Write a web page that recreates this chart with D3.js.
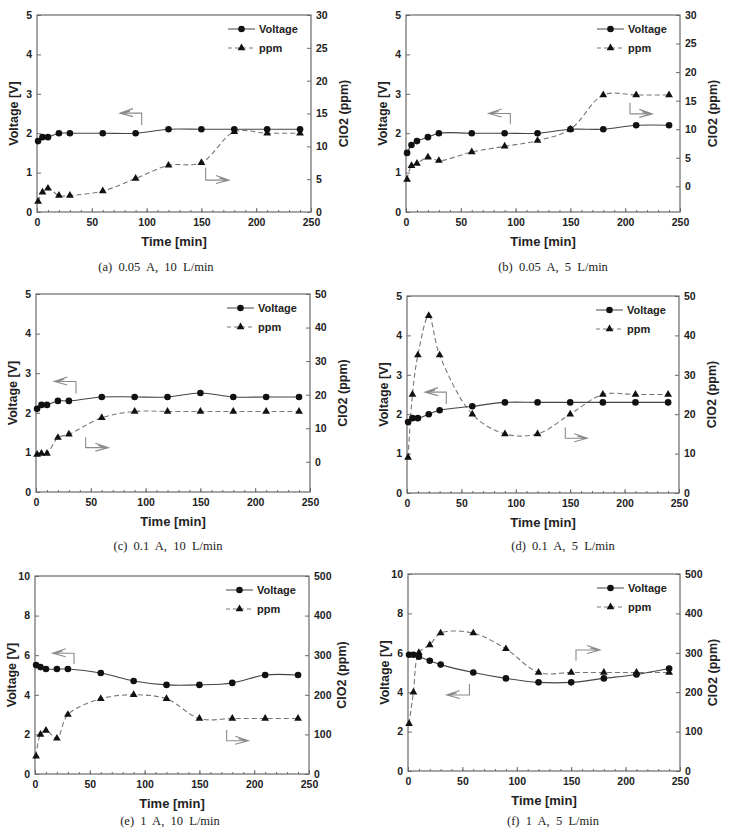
<!DOCTYPE html>
<html><head><meta charset="utf-8">
<script src="https://cdn.jsdelivr.net/npm/d3@7"></script>
<style>
body{margin:0;background:#fff}
svg text{font-family:Arial,"Liberation Sans",sans-serif}
.cap{font-family:"Liberation Serif","Times New Roman",serif;white-space:pre}
</style></head><body>
<svg id="chart" width="729" height="829"></svg>
<script>
// sampling times (min), same for every run
var time = [1, 5, 10, 20, 30, 60, 90, 120, 150, 180, 210, 240];

// (a) 0.05 A, 10 L/min
var voltA = [1.8, 1.9, 1.9, 2.0, 2.0, 2.0, 2.0, 2.1, 2.1, 2.1, 2.1, 2.1];
var ppmA  = [1.6, 3.0, 3.6, 2.5, 2.5, 3.2, 5.1, 7.1, 7.5, 12.2, 12.0, 12.0];
// (b) 0.05 A, 5 L/min
var voltB = [1.5, 1.7, 1.8, 1.9, 2.0, 2.0, 2.0, 2.0, 2.1, 2.1, 2.2, 2.2];
var ppmB  = [1.2, 3.6, 4.0, 5.1, 4.5, 6.0, 7.0, 8.0, 10.0, 16.0, 16.0, 16.0];
// (c) 0.1 A, 10 L/min
var voltC = [2.1, 2.2, 2.2, 2.3, 2.3, 2.4, 2.4, 2.4, 2.5, 2.4, 2.4, 2.4];
var ppmC  = [2.2, 2.5, 2.5, 7.2, 8.2, 13.1, 15, 15, 15, 15, 15, 15];
// (d) 0.1 A, 5 L/min
var voltD = [1.8, 1.9, 1.9, 2.0, 2.1, 2.2, 2.3, 2.3, 2.3, 2.3, 2.3, 2.3];
var ppmD  = [9, 25, 35, 45, 35, 20, 15, 15, 20, 25, 25, 25];
// (e) 1 A, 10 L/min
var voltE = [5.5, 5.4, 5.3, 5.3, 5.3, 5.1, 4.7, 4.5, 4.5, 4.6, 5.0, 5.0];
var ppmE  = [45, 100, 110, 90, 150, 190, 200, 190, 140, 140, 140, 140];
// (f) 1 A, 5 L/min
var voltF = [5.9, 5.9, 5.8, 5.6, 5.4, 5.0, 4.7, 4.5, 4.5, 4.7, 4.9, 5.2];
var ppmF  = [120, 200, 300, 320, 350, 350, 310, 250, 250, 250, 250, 250];

var captions = ["(a)  0.05  A,  10  L/min", "(b)  0.05  A,  5  L/min", "(c)  0.1  A,  10  L/min",
                "(d)  0.1  A,  5  L/min", "(e)  1  A,  10  L/min", "(f)  1  A,  5  L/min"];
var xTicks = [0, 50, 100, 150, 200, 250];

var svg = d3.select("#chart");
var frameColor = "#6a6a6a";

var panels = [
  {box:[37,15,311,212],  v:voltA, p:ppmA, vDom:[0,5],  vStep:1, pDom:[0,30],   pTicks:d3.range(0,31,5),   cap:captions[0], cx:156, cy:271,
   arrows:[[75.7,95.5,2.51,2.21],[175.2,153.9,0.81,1.12]]},
  {box:[406,15,680,212], v:voltB, p:ppmB, vDom:[0,5],  vStep:1, pDom:[-4.5,30], pTicks:d3.range(0,31,5),   cap:captions[1], cx:553, cy:271,
   arrows:[[75.4,95.2,2.5,2.23],[224.7,204.4,2.49,2.77]]},
  {box:[36,294,310,492], v:voltC, p:ppmC, vDom:[0,5],  vStep:1, pDom:[-9,50],   pTicks:d3.range(0,51,10),  cap:captions[2], cx:168, cy:550,
   arrows:[[16.7,36.5,2.79,2.49],[66,45.3,1.12,1.38]]},
  {box:[407,296,679,493],v:voltD, p:ppmD, vDom:[0,5],  vStep:1, pDom:[0,50],    pTicks:d3.range(0,51,10),  cap:captions[3], cx:563, cy:550,
   arrows:[[16.5,36.1,2.56,2.26],[165.7,145.5,1.39,1.66]]},
  {box:[35,576,309,774], v:voltE, p:ppmE, vDom:[0,10], vStep:2, pDom:[0,500],   pTicks:d3.range(0,501,100),cap:captions[4], cx:170, cy:825,
   arrows:[[16.1,35.6,6.1,5.56],[194.6,174.9,1.68,2.22]]},
  {box:[408,574,680,771],v:voltF, p:ppmF, vDom:[0,10], vStep:2, pDom:[0,500],   pTicks:d3.range(0,501,100),cap:captions[5], cx:553, cy:825,
   arrows:[[35.6,56.5,3.86,4.42],[176.5,154.4,6.14,5.6]]}
];

function styleAxis(sel){
  sel.select(".domain").remove();
  sel.selectAll(".tick line").attr("stroke", frameColor);
  sel.selectAll(".tick text").attr("fill", "#222").style("font-size", "10.5px").style("font-weight", "bold");
}

function drawPanel(p){
  var g = svg.append("g");
  var L = p.box[0], T = p.box[1], R = p.box[2], B = p.box[3];
  var x = d3.scaleLinear().domain([0,250]).range([L,R]);
  var yL = d3.scaleLinear().domain(p.vDom).range([B,T]);
  var yR = d3.scaleLinear().domain(p.pDom).range([B,T]);

  // minor + major x ticks (inward)
  g.append("g").attr("transform","translate(0,"+B+")")
    .call(d3.axisBottom(x).tickValues(d3.range(0,251,10)).tickSize(-2).tickFormat(""))
    .call(styleAxis);
  g.append("g").attr("transform","translate(0,"+B+")")
    .call(d3.axisBottom(x).tickValues(xTicks).tickSize(-4).tickPadding(7))
    .call(styleAxis);
  g.append("g").attr("transform","translate("+L+",0)")
    .call(d3.axisLeft(yL).tickValues(d3.range(p.vDom[0], p.vDom[1]+0.01, p.vStep)).tickFormat(d3.format("d")).tickSize(-4).tickPadding(5))
    .call(styleAxis);
  g.append("g").attr("transform","translate("+R+",0)")
    .call(d3.axisRight(yR).tickValues(p.pTicks).tickFormat(d3.format("d")).tickSize(-4).tickPadding(5))
    .call(styleAxis);

  g.append("rect").attr("x",L).attr("y",T).attr("width",R-L).attr("height",B-T)
    .attr("fill","none").attr("stroke",frameColor).attr("stroke-width",1.2);

  // axis titles
  g.append("text").attr("x",(L+R)/2).attr("y",B+34).attr("text-anchor","middle")
    .style("font-size","13px").style("font-weight","bold").attr("fill","#222").text("Time [min]");
  g.append("text").attr("transform","translate("+(L-19)+","+((T+B)/2)+") rotate(-90)").attr("text-anchor","middle")
    .style("font-size","12.5px").style("font-weight","bold").attr("fill","#222").text("Voltage [V]");
  g.append("text").attr("transform","translate("+(R+37)+","+((T+B)/2)+") rotate(-90)").attr("text-anchor","middle")
    .style("font-size","12.5px").style("font-weight","bold").attr("fill","#222").text("ClO2 (ppm)");

  // curves
  var vData = time.map(function(t,i){ return [t, p.v[i]]; });
  var pData = time.map(function(t,i){ return [t, p.p[i]]; });
  var curve = d3.curveCatmullRom.alpha(0.5);
  g.append("path").datum(pData).attr("fill","none").attr("stroke","#777").attr("stroke-width",1.1)
    .attr("stroke-dasharray","5,3")
    .attr("d", d3.line().x(function(d){return x(d[0]);}).y(function(d){return yR(d[1]);}).curve(curve));
  g.append("path").datum(vData).attr("fill","none").attr("stroke","#444").attr("stroke-width",1.1)
    .attr("d", d3.line().x(function(d){return x(d[0]);}).y(function(d){return yL(d[1]);}).curve(curve));

  var tri = d3.symbol().type(d3.symbolTriangle).size(26);
  g.selectAll(".ppm").data(pData).enter().append("path")
    .attr("transform", function(d){ return "translate("+x(d[0])+","+yR(d[1])+")"; })
    .attr("d", tri).attr("fill","#111");
  g.selectAll(".volt").data(vData).enter().append("circle")
    .attr("cx", function(d){return x(d[0]);}).attr("cy", function(d){return yL(d[1]);})
    .attr("r", 3.3).attr("fill","#111");

  // legend
  var lx = R-83, ly = T+14;
  g.append("line").attr("x1",lx).attr("x2",lx+27).attr("y1",ly).attr("y2",ly).attr("stroke","#444");
  g.append("circle").attr("cx",lx+13.5).attr("cy",ly).attr("r",3.3).attr("fill","#111");
  g.append("text").attr("x",lx+31).attr("y",ly+4).style("font-size","11px").style("font-weight","bold").attr("fill","#222").text("Voltage");
  g.append("line").attr("x1",lx).attr("x2",lx+27).attr("y1",ly+19).attr("y2",ly+19).attr("stroke","#777").attr("stroke-dasharray","4,3");
  g.append("path").attr("transform","translate("+(lx+13.5)+","+(ly+19)+")").attr("d",tri).attr("fill","#111");
  g.append("text").attr("x",lx+31).attr("y",ly+23).style("font-size","11px").style("font-weight","bold").attr("fill","#222").text("ppm");

  // bent arrows pointing to the axis each curve belongs to
  p.arrows.forEach(function(a){
    var tx = x(a[0]), bx = x(a[1]), yy = yL(a[2]), sy = yL(a[3]);
    var dir = tx < bx ? 1 : -1;
    g.append("path").attr("fill","none").attr("stroke","#8a8a8a").attr("stroke-width",1.1)
      .attr("d","M"+bx+","+sy+"L"+bx+","+yy+"L"+tx+","+yy+
        "M"+(tx+dir*13)+","+(yy-4.5)+"L"+tx+","+yy+"L"+(tx+dir*13)+","+(yy+3.5)+
        "M"+(tx+dir*10)+","+(yy-2)+"L"+(tx+dir*3)+","+(yy-0.5));
  });

  // caption
  svg.append("text").attr("class","cap").attr("x",p.cx).attr("y",p.cy).attr("text-anchor","middle")
    .style("font-size","12.5px").attr("fill","#222").text(p.cap);
}

panels.forEach(drawPanel);
</script></body></html>
